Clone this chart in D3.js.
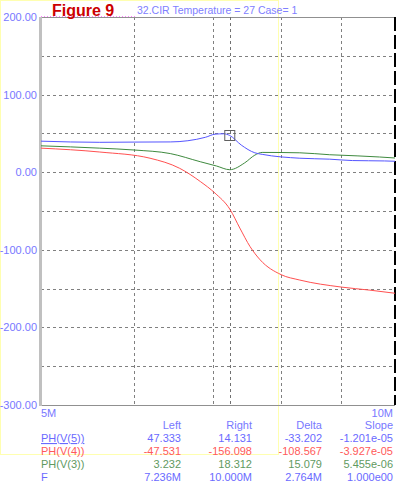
<!DOCTYPE html>
<html>
<head>
<meta charset="utf-8">
<script src="https://cdn.jsdelivr.net/npm/d3@7"></script>
<style>
  body { margin: 0; background: #fff; }
  svg text { font-family: "Liberation Sans", Arial, sans-serif; }
</style>
</head>
<body>
<svg width="399" height="485"></svg>
<script>
// frequencies in MHz
const freqV5 = [5.0, 5.61, 6.0, 6.44, 6.9, 7.03, 7.15, 7.236, 7.4, 7.6, 7.71, 8.3, 8.8, 9.2, 9.8, 10.0];
const phV5   = [40, 38.5, 38.8, 39, 45, 49, 49.5, 47.3, 35, 25, 23, 18, 16.8, 15, 14.5, 14.1];

const freqV3 = [5.0, 5.61, 6.0, 6.44, 6.83, 7.05, 7.236, 7.45, 7.6, 7.71, 8.3, 8.8, 9.3, 9.7, 10.0];
const phV3   = [34, 31, 28.6, 24, 13.5, 8, 3.2, 12, 22, 25.5, 25, 22.5, 21, 19.6, 18.3];

const freqV4 = [5.0, 5.61, 6.19, 6.56, 6.83, 7.03, 7.236, 7.38, 7.53, 7.68, 8.0, 8.3, 9.0, 9.52, 10.0];
const phV4   = [31, 26, 18, 5, -12, -27, -47.5, -72, -96, -113, -132, -139, -148, -152, -156];

const yTicks = [200, 100, 0, -100, -200, -300];
const yGrid = [150, 100, 50, 0, -50, -100, -150, -200, -250];
const xGrid = [6, 7, 8, 9];
const cursorLeft = 7.236, cursorRight = 10.0;

const tableHead = ["Left", "Right", "Delta", "Slope"];
const tableRows = [
  {name: "PH(V(5))", vals: ["47.333", "14.131", "-33.202", "-1.201e-05"], color: "#6a6aff", under: true},
  {name: "PH(V(4))", vals: ["-47.531", "-156.098", "-108.567", "-3.927e-05"], color: "#ff5a5a"},
  {name: "PH(V(3))", vals: ["3.232", "18.312", "15.079", "5.455e-06"], color: "#5f9a5f"},
  {name: "F", vals: ["7.236M", "10.000M", "2.764M", "1.000e00"], color: "#6a6aff"}
];

const svg = d3.select("svg");
const pLeft = 41, pRight = 395, pTop = 17, pBottom = 405;

const x = d3.scaleLog().domain([5, 10]).range([pLeft, pRight]);
const y = d3.scaleLinear().domain([-300, 200]).range([pBottom, pTop]);

// faint yellow selection rectangle
svg.append("rect")
  .attr("x", 0.5).attr("y", 0.5).attr("width", 278).attr("height", 454)
  .attr("fill", "none").attr("stroke", "#ffffb0").attr("stroke-width", 1);

// grid
svg.append("g").selectAll("line").data(yGrid).join("line")
  .attr("x1", pLeft).attr("x2", pRight)
  .attr("y1", d => Math.round(y(d)) + 0.5).attr("y2", d => Math.round(y(d)) + 0.5)
  .attr("stroke", "#808080").attr("stroke-dasharray", "3,3");

svg.append("g").selectAll("line").data(xGrid).join("line")
  .attr("x1", d => Math.round(x(d)) + 0.5).attr("x2", d => Math.round(x(d)) + 0.5)
  .attr("y1", pTop).attr("y2", pBottom)
  .attr("stroke", "#808080").attr("stroke-dasharray", "3,3");

// frame
svg.append("line").attr("x1", pLeft).attr("x2", pRight).attr("y1", pTop + 0.5).attr("y2", pTop + 0.5)
  .attr("stroke", "#909090");
svg.append("line").attr("x1", pLeft).attr("x2", pRight).attr("y1", pBottom + 0.5).attr("y2", pBottom + 0.5)
  .attr("stroke", "#909090");
svg.append("line").attr("x1", pLeft).attr("x2", 135).attr("y1", pTop - 0.5).attr("y2", pTop - 0.5)
  .attr("stroke", "#ff80ff").attr("stroke-dasharray", "1,2");
svg.append("line").attr("x1", pLeft - 0.5).attr("x2", pLeft - 0.5).attr("y1", pTop).attr("y2", pBottom + 1)
  .attr("stroke", "#c0c0c0").attr("stroke-width", 3);

// cursors
svg.append("line")
  .attr("x1", Math.round(x(cursorLeft)) + 0.5).attr("x2", Math.round(x(cursorLeft)) + 0.5)
  .attr("y1", pTop).attr("y2", pBottom)
  .attr("stroke", "#707070").attr("stroke-dasharray", "3,3");
svg.append("line")
  .attr("x1", x(cursorRight)).attr("x2", x(cursorRight))
  .attr("y1", pTop).attr("y2", pBottom)
  .attr("stroke", "#000").attr("stroke-width", 2).attr("stroke-dasharray", "14,4");

// curves
const line = d3.line().x(d => x(d[0])).y(d => y(d[1])).curve(d3.curveMonotoneX);
const series = [
  {f: freqV4, v: phV4, color: "#ff5050"},
  {f: freqV3, v: phV3, color: "#3f8a3f"},
  {f: freqV5, v: phV5, color: "#5555ff"}
];
series.forEach(s => {
  svg.append("path")
    .datum(s.f.map((f, i) => [f, s.v[i]]))
    .attr("d", line)
    .attr("fill", "none")
    .attr("stroke", s.color)
    .attr("stroke-width", 1);
});

// cursor marker
svg.append("rect")
  .attr("x", x(cursorLeft) - 5).attr("y", y(47.3) - 5)
  .attr("width", 10).attr("height", 10)
  .attr("fill", "none").attr("stroke", "#606060");

// y labels
svg.append("g").selectAll("text").data(yTicks).join("text")
  .attr("x", 37).attr("y", d => y(d) + 4)
  .attr("text-anchor", "end")
  .attr("font-size", 11).attr("fill", "#7878ff")
  .text(d => d.toFixed(2));

// x labels
svg.append("text").attr("x", pLeft).attr("y", 417).attr("font-size", 11).attr("fill", "#7878ff").text("5M");
svg.append("text").attr("x", 393).attr("y", 417).attr("text-anchor", "end")
  .attr("font-size", 11).attr("fill", "#7878ff").text("10M");

// titles
svg.append("text").attr("x", 52).attr("y", 16).attr("font-size", 16).attr("font-weight", "bold")
  .attr("fill", "#cc0000").text("Figure 9");
svg.append("text").attr("x", 137).attr("y", 14).attr("font-size", 10.5)
  .attr("fill", "#8080ff").text("32.CIR Temperature = 27 Case= 1");

// readout table
const colX = [181, 252, 322, 393];
const rowY = [429, 442, 455, 468, 481];
tableHead.forEach((h, i) => {
  svg.append("text").attr("x", colX[i]).attr("y", rowY[0]).attr("text-anchor", "end")
    .attr("font-size", 11).attr("fill", "#7878ff").text(h);
});
tableRows.forEach((r, j) => {
  svg.append("text").attr("x", pLeft).attr("y", rowY[j + 1])
    .attr("font-size", 11).attr("fill", r.color)
    .attr("text-decoration", r.under ? "underline" : null).text(r.name);
  r.vals.forEach((v, i) => {
    svg.append("text").attr("x", colX[i]).attr("y", rowY[j + 1]).attr("text-anchor", "end")
      .attr("font-size", 11).attr("fill", r.color).text(v);
  });
});
</script>
</body>
</html>
